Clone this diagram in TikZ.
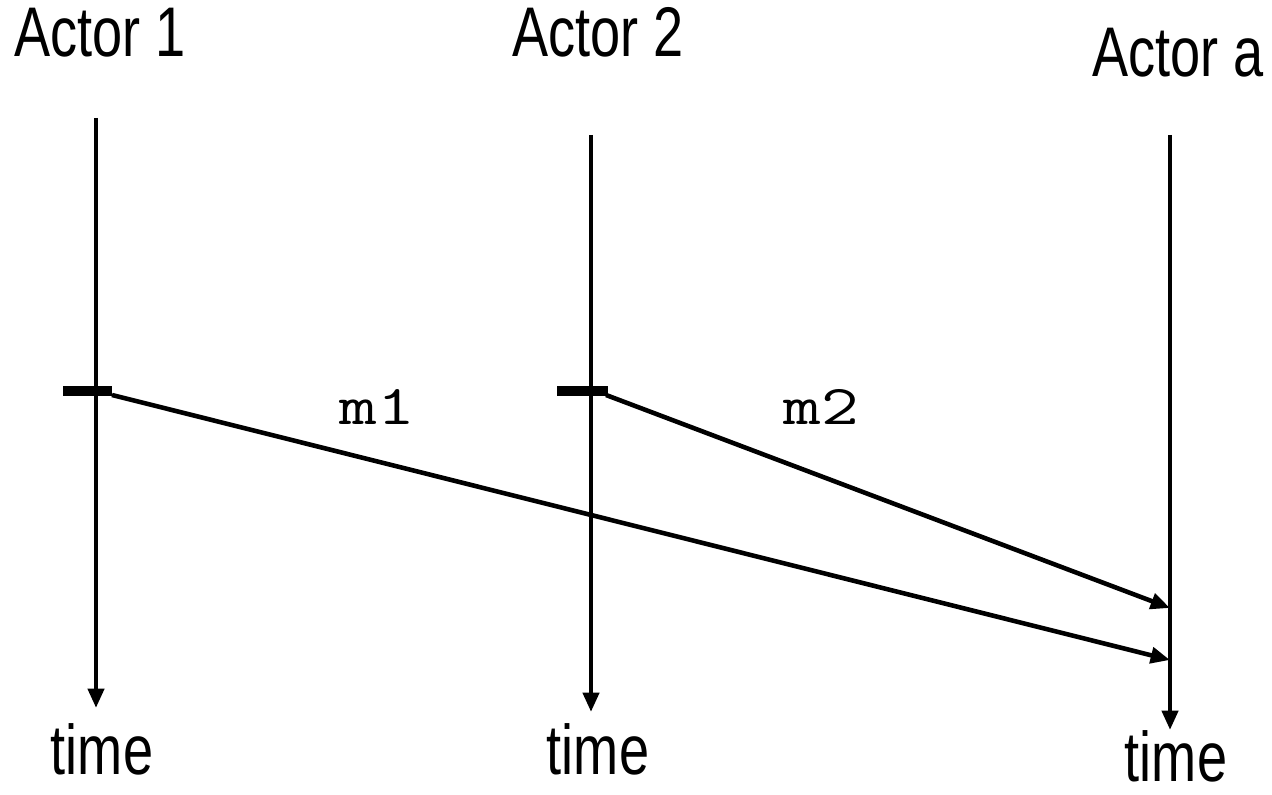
\documentclass[tikz,border=0pt]{standalone}
\usepackage{fontspec}
\setmainfont{Liberation Sans}
\usetikzlibrary{arrows.meta}

\tikzset{
  lifeline/.style={line width=2.6pt,-{Triangle[length=11pt,width=9pt]}},
  msgline/.style={line width=2.6pt,-{Triangle[length=11pt,width=9pt]}},
  eventmark/.style={line width=5.7pt},
  actorlabel/.style={anchor=base,inner sep=0pt,xscale=0.77,font=\fontsize{40}{44}\selectfont},
  msglabel/.style={anchor=base,inner sep=0pt,xscale=1.3,font=\ttfamily\fontsize{32}{36}\selectfont}
}

\begin{document}
\begin{tikzpicture}
\useasboundingbox (0,0) rectangle (25.44,15.88);
% lifelines
\coordinate (top1) at (1.92,13.52);
\coordinate (bot1) at (1.92,1.72);
\coordinate (top2) at (11.82,13.18);
\coordinate (bot2) at (11.82,1.64);
\coordinate (topa) at (23.4,13.18);
\coordinate (bota) at (23.4,1.28);
\draw[lifeline] (top1) -- (bot1);
\draw[lifeline] (top2) -- (bot2);
\draw[lifeline] (topa) -- (bota);
% actors and time labels
\node[actorlabel] (actor1) at (2.0,14.74) {Actor 1};
\node[actorlabel] (actor2) at (11.96,14.74) {Actor 2};
\node[actorlabel] (actora) at (23.56,14.34) {Actor a};
\node[actorlabel] (time1) at (2.04,0.40) {time};
\node[actorlabel] (time2) at (11.96,0.40) {time};
\node[actorlabel] (timea) at (23.52,0.26) {time};
% send events
\coordinate (send1) at (2.24,7.98);
\coordinate (send2) at (12.12,7.98);
\coordinate (recv1) at (23.4,2.68);
\coordinate (recv2) at (23.4,3.72);
\draw[eventmark] (1.26,8.06) -- (2.24,8.06);
\draw[eventmark] (11.14,8.06) -- (12.16,8.06);
% messages
\draw[msgline] (send1) -- (recv1);
\draw[msgline] (send2) -- (recv2);
\node[msglabel] (m1) at (7.54,7.38) {m1};
\node[msglabel] (m2) at (16.42,7.38) {m2};
\end{tikzpicture}
\end{document}
